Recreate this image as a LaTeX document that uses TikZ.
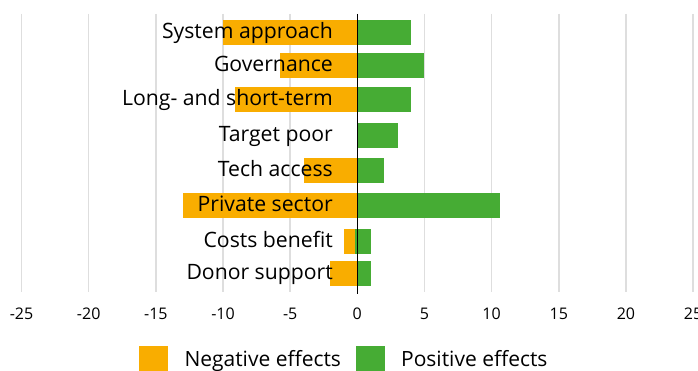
\documentclass[tikz,border=0pt]{standalone}
\usepackage{fontspec}
\setmainfont{Open Sans}
\usepackage{tikz}
\definecolor{negcol}{RGB}{249,173,0}
\definecolor{poscol}{RGB}{70,172,52}
\definecolor{gridcol}{RGB}{222,222,222}

\begin{document}
\begin{tikzpicture}[x=13.43pt, y=-1pt, negbar/.style = {fill=negcol}, posbar/.style = {fill=poscol},
  main/.style = {anchor=base east, inner sep=0pt, font=\fontsize{21.2}{25}\selectfont},
  tick/.style = {anchor=base, inner sep=0pt, font=\fontsize{16}{19}\selectfont},
  key/.style = {anchor=base west, inner sep=0pt, font=\fontsize{21}{25}\selectfont}]
\useasboundingbox (-26.605,0) rectangle (25.369,371);

% grid and scale
\foreach \v in {-25,-20,...,25} {
  \draw[gridcol, line width=1.5pt] (\v,14) -- (\v,292);
  \node[tick] (t\v) at (\v,320) {\v};
}

% bars
\fill[negbar] (-10,20) rectangle (0,45);    \fill[posbar] (0,20) rectangle (4,45);
\fill[negbar] (-5.75,53) rectangle (0,78);  \fill[posbar] (0,53) rectangle (5,78);
\fill[negbar] (-9.1,87) rectangle (0,112);  \fill[posbar] (0,87) rectangle (4,112);
                                            \fill[posbar] (0,123) rectangle (3,148);
\fill[negbar] (-4,158) rectangle (0,183);   \fill[posbar] (0,158) rectangle (2,183);
\fill[negbar] (-13,193) rectangle (0,218);  \fill[posbar] (0,193) rectangle (10.6,218);
\fill[negbar] (-1,229) rectangle (0,254);   \fill[posbar] (-0.2,229) rectangle (1,254);
\fill[negbar] (-2,261) rectangle (0,286);   \fill[posbar] (0,261) rectangle (1,286);

% labels
\node[main] (1) at (-1.81,38.5) {System approach};
\node[main] (2) at (-1.81,71.5) {Governance};
\node[main] (3) at (-1.81,105.5) {Long- and short-term};
\node[main] (4) at (-1.81,141.5) {Target poor};
\node[main] (5) at (-1.81,176.5) {Tech access};
\node[main] (6) at (-1.81,211.5) {Private sector};
\node[main] (7) at (-1.81,247.5) {Costs benefit};
\node[main] (8) at (-1.81,279.5) {Donor support};

\draw[line width=1.5pt] (0,14) -- (0,294);

% legend
\fill[negbar] (-16.23,346) rectangle (-14.1,375);
\node[key] (9) at (-12.88,366.7) {Negative effects};
\fill[posbar] (-0.1,346) rectangle (2.06,375);
\node[key] (10) at (3.25,366.7) {Positive effects};

\end{tikzpicture}
\end{document}
